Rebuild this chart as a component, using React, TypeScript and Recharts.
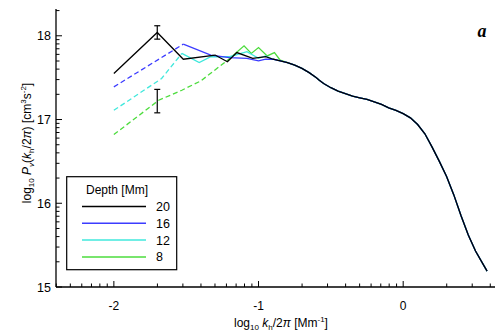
import { ErrorBar, Legend, Line, LineChart, XAxis, YAxis } from "recharts";

// log10 k_h/2pi [Mm^-1] and log10 P_v [cm^3 s^-2] for each depth.
// The low-k end of every curve is given on its own; the high-k tail is shared.
const DEPTHS = [20, 16, 12, 8];
const COLORS = ["#000000", "#3c3cff", "#40e8dc", "#4cdc3c"];

const D20_SOLID_K = [-2.0, -1.7, -1.52, -1.3, -1.215, -1.15, -1.04, -0.95];
const D20_SOLID_P = [17.55, 18.04, 17.72, 17.77, 17.69, 17.8, 17.73, 17.75];

const D16_DASH_K = [-2.0, -1.52];
const D16_DASH_P = [17.39, 17.9];
const D16_SOLID_K = [-1.52, -1.33, -1.2, -1.08, -1.0, -0.95];
const D16_SOLID_P = [17.9, 17.77, 17.74, 17.73, 17.7, 17.72];

const D12_DASH_K = [-2.0, -1.67, -1.53];
const D12_DASH_P = [17.11, 17.49, 17.79];
const D12_SOLID_K = [-1.53, -1.41, -1.33, -1.2, -1.08, -1.0, -0.95];
const D12_SOLID_P = [17.79, 17.68, 17.75, 17.75, 17.81, 17.73, 17.76];

const D8_DASH_K = [-2.0, -1.69, -1.53, -1.4, -1.22];
const D8_DASH_P = [16.82, 17.23, 17.35, 17.46, 17.7];
const D8_SOLID_K = [-1.22, -1.1, -1.05, -1.0, -0.94, -0.89, -0.85];
const D8_SOLID_P = [17.7, 17.88, 17.79, 17.86, 17.76, 17.8, 17.71];

const TAIL_K = [
  -0.9, -0.85, -0.8, -0.75, -0.7, -0.65, -0.6, -0.58, -0.55, -0.5, -0.45, -0.4,
  -0.35, -0.3, -0.25, -0.2, -0.15, -0.1, -0.05, 0, 0.05, 0.1, 0.15, 0.2, 0.25,
  0.3, 0.35, 0.4, 0.45, 0.5, 0.55, 0.58,
];
const TAIL_P = [
  17.72, 17.7, 17.68, 17.65, 17.61, 17.56, 17.5, 17.47, 17.43, 17.38, 17.34,
  17.31, 17.28, 17.26, 17.24, 17.21, 17.18, 17.14, 17.11, 17.07, 17.02, 16.94,
  16.83, 16.67, 16.5, 16.32, 16.1, 15.85, 15.62, 15.43, 15.28, 15.19,
];

// error bars: position, centre and half-width (dex)
const ERR_K = [-1.7, -1.7];
const ERR_P = [18.04, 17.22];
const ERR_HALF = [0.08, 0.14];

const X_MAJOR = [-2, -1, 0];
const Y_MAJOR = [15, 16, 17, 18];
const X_DOMAIN: [number, number] = [-2.4, 0.69];
const Y_DOMAIN: [number, number] = [15, 18.32];

const FONT = "'Liberation Sans', Arial, sans-serif";

type Pt = { k: number; p: number; err?: number[] };

const zip = (ks: number[], ps: number[]): Pt[] =>
  ks.map((k, i) => ({ k, p: ps[i] }));

// front part followed by the shared tail
const withTail = (ks: number[], ps: number[]): Pt[] => {
  const last = ks[ks.length - 1];
  return zip(ks, ps).concat(zip(TAIL_K, TAIL_P).filter((d) => d.k > last));
};

// log-spaced minor ticks (log10 of 2..9 times each decade)
const logTicks = (majors: number[], domain: [number, number]) => {
  const out: number[] = [];
  for (let d = majors[0] - 1; d <= majors[majors.length - 1]; d++) {
    out.push(d);
    for (let n = 2; n < 10; n++) out.push(d + Math.log10(n));
  }
  return out.filter((v) => v >= domain[0] && v <= domain[1]);
};

const X_TICKS = logTicks(X_MAJOR, X_DOMAIN);
const Y_TICKS = logTicks(Y_MAJOR, Y_DOMAIN);

const solid = [
  withTail(D8_SOLID_K, D8_SOLID_P),
  withTail(D12_SOLID_K, D12_SOLID_P),
  withTail(D16_SOLID_K, D16_SOLID_P),
  withTail(D20_SOLID_K, D20_SOLID_P),
];
const dashed = [
  zip(D8_DASH_K, D8_DASH_P),
  zip(D12_DASH_K, D12_DASH_P),
  zip(D16_DASH_K, D16_DASH_P),
];
const drawColors = [COLORS[3], COLORS[2], COLORS[1], COLORS[0]];
const errData: Pt[] = ERR_K.map((k, i) => ({
  k,
  p: ERR_P[i],
  err: [ERR_HALF[i], ERR_HALF[i]],
}));

const isMajor = (v: number) => Number.isInteger(v);

function BottomTick({ x, y, payload }: any) {
  const major = isMajor(payload.value);
  return (
    <g>
      <line x1={x} x2={x} y1={y} y2={y - (major ? 6 : 3.5)} stroke="#000" />
      {major && (
        <text x={x} y={y + 23} textAnchor="middle" fontSize={12} fontFamily={FONT} fill="#000">
          {payload.value}
        </text>
      )}
    </g>
  );
}

function TopTick({ x, y, payload }: any) {
  const major = isMajor(payload.value);
  return <line x1={x} x2={x} y1={y} y2={y + (major ? 6 : 3.5)} stroke="#000" />;
}

function LeftTick({ x, y, payload }: any) {
  const major = isMajor(payload.value);
  return (
    <g>
      <line x1={x} x2={x + (major ? 6 : 3.5)} y1={y} y2={y} stroke="#000" />
      {major && (
        <text x={x - 5} y={y} dy="0.36em" textAnchor="end" fontSize={12.5} fontFamily={FONT} fill="#000">
          {payload.value}
        </text>
      )}
    </g>
  );
}

function DepthLegend() {
  return (
    <svg width={112} height={96} style={{ display: "block" }}>
      <rect x={0.7} y={0.7} width={110} height={93} fill="#fff" stroke="#000" strokeWidth={1.2} />
      <text x={20} y={18} fontSize={12} fontFamily={FONT}>
        Depth [Mm]
      </text>
      {DEPTHS.map((d, i) => (
        <g key={d}>
          <line x1={16} x2={80} y1={30.5 + i * 16.8} y2={30.5 + i * 16.8} stroke={COLORS[i]} strokeWidth={1.5} />
          <text x={90} y={30.5 + i * 16.8} dy="0.36em" fontSize={12.5} fontFamily={FONT}>
            {d}
          </text>
        </g>
      ))}
    </svg>
  );
}

export default function App() {
  return (
    <div
      style={{
        position: "absolute",
        left: 0,
        top: 0,
        width: 495,
        height: 334,
        overflow: "hidden",
        background: "#fff",
      }}
    >
      <LineChart width={520} height={334} margin={{ top: 9, right: 17, bottom: 0, left: 0 }}>
        <XAxis
          dataKey="k"
          type="number"
          domain={X_DOMAIN}
          allowDataOverflow
          ticks={X_TICKS}
          interval={0}
          height={47}
          tickSize={0}
          tickMargin={0}
          tickLine={false}
          tick={BottomTick}
          axisLine={{ stroke: "#000", strokeWidth: 1.3 }}
        />
        <XAxis
          xAxisId="top"
          orientation="top"
          type="number"
          domain={X_DOMAIN}
          allowDataOverflow
          ticks={X_TICKS}
          interval={0}
          height={0}
          tickSize={0}
          tickMargin={0}
          tickLine={false}
          tick={TopTick}
          axisLine={{ stroke: "#000", strokeWidth: 1.3 }}
        />
        <YAxis
          dataKey="p"
          type="number"
          domain={Y_DOMAIN}
          allowDataOverflow
          ticks={Y_TICKS}
          interval={0}
          width={56}
          tickSize={0}
          tickMargin={0}
          tickLine={false}
          tick={LeftTick}
          axisLine={{ stroke: "#000", strokeWidth: 1.3 }}
        />
        {dashed.map((data, i) => (
          <Line
            key={`dash-${i}`}
            data={data}
            dataKey="p"
            type="linear"
            stroke={drawColors[i]}
            strokeWidth={1.3}
            strokeDasharray="5 3"
            dot={false}
            isAnimationActive={false}
          />
        ))}
        {solid.map((data, i) => (
          <Line
            key={`solid-${i}`}
            data={data}
            dataKey="p"
            type="linear"
            stroke={drawColors[i]}
            strokeWidth={1.3}
            dot={false}
            isAnimationActive={false}
          />
        ))}
        <Line
          data={errData}
          dataKey="p"
          stroke="none"
          dot={false}
          isAnimationActive={false}
        >
          <ErrorBar dataKey="err" direction="y" width={3} stroke="#000" strokeWidth={1.2} />
        </Line>
        <Legend
          layout="horizontal"
          verticalAlign="middle"
          wrapperStyle={{ left: 66, top: 176, width: 112, height: 96 }}
          content={() => <DepthLegend />}
        />
      </LineChart>
      <svg
        width={495}
        height={334}
        style={{ position: "absolute", left: 0, top: 0, pointerEvents: "none" }}
        fontFamily={FONT}
      >
        <text x={281} y={327} textAnchor="middle" fontSize={12}>
          log<tspan fontSize={8} dy={3}>10</tspan>
          <tspan dy={-3}> </tspan>
          <tspan fontStyle="italic">k</tspan>
          <tspan fontSize={8} dy={3}>h</tspan>
          <tspan dy={-3}>/2</tspan>
          <tspan fontStyle="italic">π</tspan>
          <tspan> [Mm</tspan>
          <tspan fontSize={8} dy={-5}>-1</tspan>
          <tspan dy={5}>]</tspan>
        </text>
        <text transform="rotate(-90)" x={-143} y={31} textAnchor="middle" fontSize={12}>
          log<tspan fontSize={8} dy={3}>10</tspan>
          <tspan dy={-3}> </tspan>
          <tspan fontStyle="italic">P</tspan>
          <tspan fontSize={8} dy={3} fontStyle="italic">v</tspan>
          <tspan dy={-3}>(</tspan>
          <tspan fontStyle="italic">k</tspan>
          <tspan fontSize={8} dy={3}>h</tspan>
          <tspan dy={-3}>/2</tspan>
          <tspan fontStyle="italic">π</tspan>
          <tspan>) [cm</tspan>
          <tspan fontSize={8} dy={-5}>3</tspan>
          <tspan dy={5}>s</tspan>
          <tspan fontSize={8} dy={-5}>-2</tspan>
          <tspan dy={5}>]</tspan>
        </text>
        <text
          x={482}
          y={37}
          textAnchor="middle"
          fontSize={18}
          fontStyle="italic"
          fontWeight="bold"
          fontFamily="'Liberation Serif', 'Times New Roman', serif"
        >
          a
        </text>
      </svg>
    </div>
  );
}
